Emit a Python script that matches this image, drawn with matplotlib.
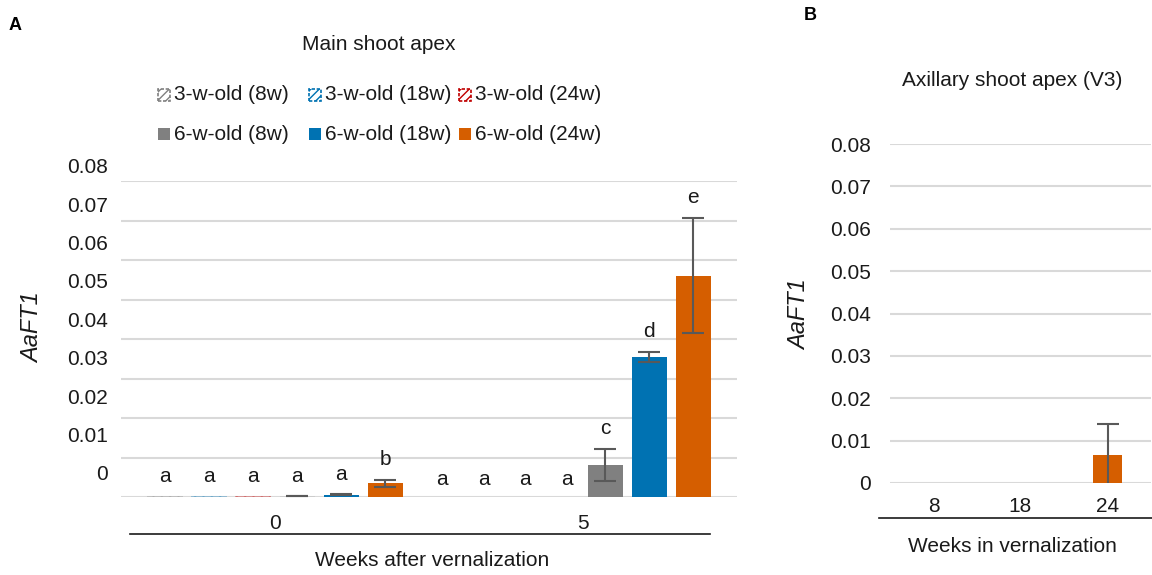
import numpy as np
import matplotlib
matplotlib.use("Agg")
import matplotlib.pyplot as plt
from matplotlib.patches import Rectangle
from matplotlib.lines import Line2D
from matplotlib.transforms import blended_transform_factory

plt.rcParams['font.family'] = ['Liberation Sans', 'DejaVu Sans']
plt.rcParams['hatch.linewidth'] = 1.0

# ---- data: panel A (main shoot apex) ----
weeks_after = ['0', '5']
series_names = ['3-w-old (8w)', '3-w-old (18w)', '3-w-old (24w)',
                '6-w-old (8w)', '6-w-old (18w)', '6-w-old (24w)']
three_w_8 = [0.0002, 0.0]
three_w_18 = [0.0002, 0.0]
three_w_24 = [0.0002, 0.0]
six_w_8 = [0.0002, 0.0081]
six_w_18 = [0.0006, 0.0354]
six_w_24 = [0.0035, 0.0560]
six_w_8_err = [0.0, 0.0040]
six_w_18_err = [0.0001, 0.0013]
six_w_24_err = [0.0009, 0.0146]
letters_0 = ['a', 'a', 'a', 'a', 'a', 'b']
letters_5_zero = ['a', 'a', 'a', 'a']
letters_5_bars = ['c', 'd', 'e']
y_ticks = [0, 0.01, 0.02, 0.03, 0.04, 0.05, 0.06, 0.07, 0.08]
y_tick_labels = ['0', '0.01', '0.02', '0.03', '0.04', '0.05', '0.06', '0.07', '0.08']

# ---- data: panel B (axillary shoot apex) ----
weeks_in = ['8', '18', '24']
axillary = [0.0001, 0.0001, 0.0066]
axillary_err = [0.0, 0.0, 0.0073]

GRAY, BLUE, ORANGE, RED = '#808080', '#0072B2', '#D55E00', '#C00000'
ERR = '#595959'
GRID = '#d9d9d9'
TXT = '#1a1a1a'
FS = 15

W, H = 1152, 575
fig = plt.figure(figsize=(W / 100, H / 100), dpi=100)


def fx(px):
    return px / W


def fy(py):
    return 1 - py / H


# ================= panel A =================
axA = fig.add_axes([fx(121), fy(497), fx(737) - fx(121), fy(181) - fy(497)])
axA.set_xlim(0, 2)
axA.set_ylim(0, 0.08)
for s in axA.spines.values():
    s.set_visible(False)
axA.set_yticks(y_ticks)
axA.yaxis.grid(True, color=GRID, linewidth=1.5)
axA.set_axisbelow(True)
axA.tick_params(axis='y', length=0, labelleft=False)
axA.set_xticks([0.5, 1.5])
axA.set_xticklabels(weeks_after, fontsize=FS, color=TXT)
axA.tick_params(axis='x', length=0, pad=12)

# the y labels in the original sit slightly above their gridlines
trA = blended_transform_factory(axA.transAxes, axA.transData)
for v, lab in zip(y_ticks, y_tick_labels):
    axA.text(-0.021, 0.0056 + 0.972 * v, lab, transform=trA, ha='right',
             va='center', fontsize=FS, color=TXT)

step, bw = 0.1429, 0.1136
centers = np.array([0.5, 1.5])
means = [three_w_8, three_w_18, three_w_24, six_w_8, six_w_18, six_w_24]
errs = [None, None, None, six_w_8_err, six_w_18_err, six_w_24_err]
cols = [GRAY, BLUE, RED, GRAY, BLUE, ORANGE]
for i, (m, e, c) in enumerate(zip(means, errs, cols)):
    xs = centers + (i - 2.5) * step
    if i < 3:
        axA.bar(xs, m, bw, facecolor='white', edgecolor=c, hatch='////',
                linewidth=0.5, alpha=0.5)
    else:
        # near-zero bars show up only as a faint line
        fc = [c if v > 0.0004 else '#cccccc' for v in m]
        axA.bar(xs, m, bw, color=fc)
        axA.errorbar(xs, m, yerr=e, fmt='none', ecolor=ERR, elinewidth=1.5,
                     capsize=8, capthick=1.5)

# significance letters
for i, lab in enumerate(letters_0):
    top = means[i][0] + (errs[i][0] if errs[i] else 0)
    axA.text(0.5 + (i - 2.5) * step, top + 0.005, lab, ha='center',
             va='center', fontsize=FS, color=TXT)
for i, lab in enumerate(letters_5_zero):
    axA.text(1.5 - 2.5 * step - 0.1 + i * 0.135, 0.0045, lab, ha='center',
             va='center', fontsize=FS, color=TXT)
for j, lab in enumerate(letters_5_bars):
    i = j + 3
    top = means[i][1] + errs[i][1]
    axA.text(1.5 + (i - 2.5) * step, top + 0.0052, lab, ha='center',
             va='center', fontsize=FS, color=TXT)

fig.add_artist(Line2D([fx(130), fx(710)], [fy(534), fy(534)], color=TXT,
                      linewidth=1.2, transform=fig.transFigure))
fig.text(fx(432), fy(561), 'Weeks after vernalization', ha='center',
         va='center', fontsize=FS, color=TXT)
fig.text(fx(33), fy(328), 'AaFT1', rotation=90, style='italic', ha='center',
         va='center', fontsize=17, color=TXT)
fig.text(fx(379), fy(45), 'Main shoot apex', ha='center', va='center',
         fontsize=FS, color=TXT)
fig.text(fx(15), fy(25), 'A', ha='center', va='center', fontsize=13,
         fontweight='bold', color='black')

# legend (two rows, three fixed-width columns)
leg_x = [158, 309, 459]
leg_y = [95, 134]
for k, name in enumerate(series_names):
    r, cidx = k // 3, k % 3
    x0, yc = leg_x[cidx], leg_y[r]
    c = cols[k]
    if r == 0:
        patch = Rectangle((fx(x0), fy(yc + 6)), fx(12), 12 / H,
                          transform=fig.transFigure, facecolor='white',
                          edgecolor=c, hatch='////', linewidth=1.2,
                          linestyle=(0, (2, 1)))
    else:
        patch = Rectangle((fx(x0), fy(yc + 6)), fx(12), 12 / H,
                          transform=fig.transFigure, facecolor=c,
                          edgecolor='none')
    fig.add_artist(patch)
    fig.text(fx(x0 + 16), fy(yc), name, ha='left', va='center',
             fontsize=FS, color=TXT)

# ================= panel B =================
axB = fig.add_axes([fx(890), fy(483), fx(1151) - fx(890), fy(144) - fy(483)])
axB.set_xlim(-0.5, 2.5)
axB.set_ylim(0, 0.08)
for s in axB.spines.values():
    s.set_visible(False)
axB.set_yticks(y_ticks)
axB.set_yticklabels(y_tick_labels, fontsize=FS, color=TXT)
axB.yaxis.grid(True, color=GRID, linewidth=1.5)
axB.set_axisbelow(True)
axB.tick_params(axis='y', length=0, pad=14)
xb = np.arange(len(weeks_in))
axB.bar(xb, axillary, 0.333, color=['#cccccc', '#cccccc', ORANGE])
axB.errorbar(xb[2:], axillary[2:], yerr=axillary_err[2:], fmt='none',
             ecolor=ERR, elinewidth=1.5, capsize=8, capthick=1.5)
axB.set_xticks(xb)
axB.set_xticklabels(weeks_in, fontsize=FS, color=TXT)
axB.tick_params(axis='x', length=0, pad=10)

fig.add_artist(Line2D([fx(879), fx(1152)], [fy(518), fy(518)], color=TXT,
                      linewidth=1.2, transform=fig.transFigure))
fig.text(fx(1012), fy(546), 'Weeks in vernalization', ha='center',
         va='center', fontsize=FS, color=TXT)
fig.text(fx(800), fy(315), 'AaFT1', rotation=90, style='italic',
         ha='center', va='center', fontsize=17, color=TXT)
fig.text(fx(1012), fy(80), 'Axillary shoot apex (V3)', ha='center',
         va='center', fontsize=FS, color=TXT)
fig.text(fx(810), fy(15), 'B', ha='center', va='center', fontsize=13,
         fontweight='bold', color='black')

fig.savefig('out.png', dpi=100)
